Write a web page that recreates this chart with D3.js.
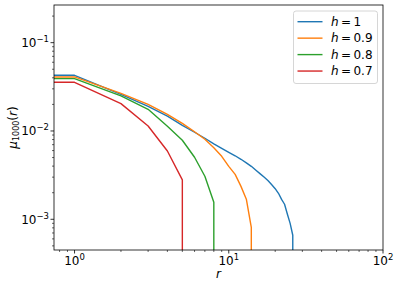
<!DOCTYPE html>
<html><head><meta charset="utf-8">
<script src="https://cdn.jsdelivr.net/npm/d3@7"></script>
<style>
body{margin:0;background:#fff;}
svg text{font-family:"DejaVu Sans",sans-serif;}
</style></head>
<body><svg id="c" width="399" height="287"></svg>
<script>
// Data
const rBlue = [1,2,3,4,5,6,7,8,9,10,11,12,13,14,15,16,17,18,19,20,21,22,23,24,25,26];
const muBlue = [0.0427,0.0260,0.0190,0.0147,0.0116,0.00967,0.00827,0.00716,0.00637,0.00574,0.00524,0.00478,0.00436,0.00398,0.00359,0.00327,0.00299,0.00273,0.00246,0.00222,0.00197,0.00168,0.00148,0.00114,0.00090,0.00066];
const rOrange = [1,2,3,4,5,6,7,8,9,10,11,12,13,14];
const muOrange = [0.0409,0.0267,0.0200,0.01545,0.0122,0.0098,0.00805,0.00645,0.00517,0.00398,0.00323,0.00236,0.00169,0.00081];
const rGreen = [1,2,3,4,5,6,7,8];
const muGreen = [0.0392,0.0250,0.0176,0.0113,0.00785,0.00504,0.00307,0.00156];
const rRed = [1,2,3,4,5];
const muRed = [0.0356,0.0204,0.0114,0.00593,0.00279];
const seriesLabels = ["1","0.9","0.8","0.7"];
const seriesColors = ["#1f77b4","#ff7f0e","#2ca02c","#d62728"];
const xTickValues = [1,10,100];
const xTickExps = ["0","1","2"];
const yTickValues = [0.1,0.01,0.001];
const yTickExps = ["\u22121","\u22122","\u22123"];
const xDomain = [0.736, 100];
const yDomain = [4.49e-4, 0.267];

const series = [
  {r:rBlue, v:muBlue}, {r:rOrange, v:muOrange}, {r:rGreen, v:muGreen}, {r:rRed, v:muRed}
];

const L=54, R=383, T=5, B=250;
const svg = d3.select("#c");
const x = d3.scaleLog().domain(xDomain).range([L,R]);
const y = d3.scaleLog().domain(yDomain).range([B,T]);

svg.append("defs").append("clipPath").attr("id","clip")
  .append("rect").attr("x",L).attr("y",T).attr("width",R-L).attr("height",B-T);

const line = d3.line().x(d=>x(d[0])).y(d=>y(d[1]));
const g = svg.append("g").attr("clip-path","url(#clip)");
series.forEach((s,i)=>{
  const pts = [[xDomain[0], s.v[0]]];
  s.r.forEach((r,j)=>pts.push([r, s.v[j]]));
  pts.push([s.r[s.r.length-1], yDomain[0]*0.5]);
  g.append("path").attr("d", line(pts)).attr("fill","none")
    .attr("stroke", seriesColors[i]).attr("stroke-width",1.4).attr("stroke-linejoin","round");
});

// minor ticks
function minors(dom){
  const out=[];
  for(let e=-5;e<=3;e++){for(let m=2;m<=9;m++){const v=m*Math.pow(10,e); if(v>=dom[0]&&v<=dom[1]) out.push(v);}}
  return out;
}
const axG = svg.append("g").attr("stroke","#000");
minors(xDomain).forEach(v=>axG.append("line").attr("x1",x(v)).attr("x2",x(v)).attr("y1",B).attr("y2",B+2).attr("stroke-width",0.6));
minors(yDomain).forEach(v=>axG.append("line").attr("y1",y(v)).attr("y2",y(v)).attr("x1",L).attr("x2",L-2).attr("stroke-width",0.6));
xTickValues.forEach(v=>axG.append("line").attr("x1",x(v)).attr("x2",x(v)).attr("y1",B).attr("y2",B+3.5).attr("stroke-width",0.8));
yTickValues.forEach(v=>axG.append("line").attr("y1",y(v)).attr("y2",y(v)).attr("x1",L).attr("x2",L-3.5).attr("stroke-width",0.8));

svg.append("rect").attr("x",L).attr("y",T).attr("width",R-L).attr("height",B-T)
  .attr("fill","none").attr("stroke","#000").attr("stroke-width",0.8);

// tick labels
xTickValues.forEach((v,i)=>{
  const t = svg.append("text").attr("x",x(v)).attr("y",265).attr("text-anchor","middle").attr("font-size",12);
  t.append("tspan").text("10");
  t.append("tspan").attr("dy",-5).attr("font-size",8.5).text(xTickExps[i]);
});
yTickValues.forEach((v,i)=>{
  const t = svg.append("text").attr("x",49).attr("y",y(v)+4.3).attr("text-anchor","end").attr("font-size",12);
  t.append("tspan").text("10");
  t.append("tspan").attr("dy",-5).attr("font-size",8.5).text(yTickExps[i]);
});

// axis labels
svg.append("text").attr("x",(L+R)/2).attr("y",278).attr("text-anchor","middle")
  .attr("font-size",12).attr("font-style","italic").text("r");
const yl = svg.append("text").attr("transform",`translate(16.5,${(T+B)/2}) rotate(-90)`)
  .attr("text-anchor","middle").attr("font-size",12);
yl.append("tspan").attr("font-style","italic").text("\u03bc");
yl.append("tspan").attr("dy",2.5).attr("font-size",8).text("1000");
yl.append("tspan").attr("dy",-2.5).text("(");
yl.append("tspan").attr("font-style","italic").text("r");
yl.append("tspan").text(")");

// legend
const lg = svg.append("g");
lg.append("rect").attr("x",293.5).attr("y",11).attr("width",84).attr("height",72.5).attr("rx",2.5)
  .attr("fill","#fff").attr("fill-opacity",0.8).attr("stroke","#ccc").attr("stroke-width",0.8);
seriesLabels.forEach((lab,i)=>{
  const yy = 21.7 + i*16.45;
  lg.append("line").attr("x1",297.5).attr("x2",322.5).attr("y1",yy).attr("y2",yy)
    .attr("stroke",seriesColors[i]).attr("stroke-width",1.4);
  const t = lg.append("text").attr("x",331).attr("y",yy+4.3).attr("font-size",12);
  t.append("tspan").attr("font-style","italic").text("h");
  t.append("tspan").text("\u2009=\u2009"+lab);
});
</script></body></html>
